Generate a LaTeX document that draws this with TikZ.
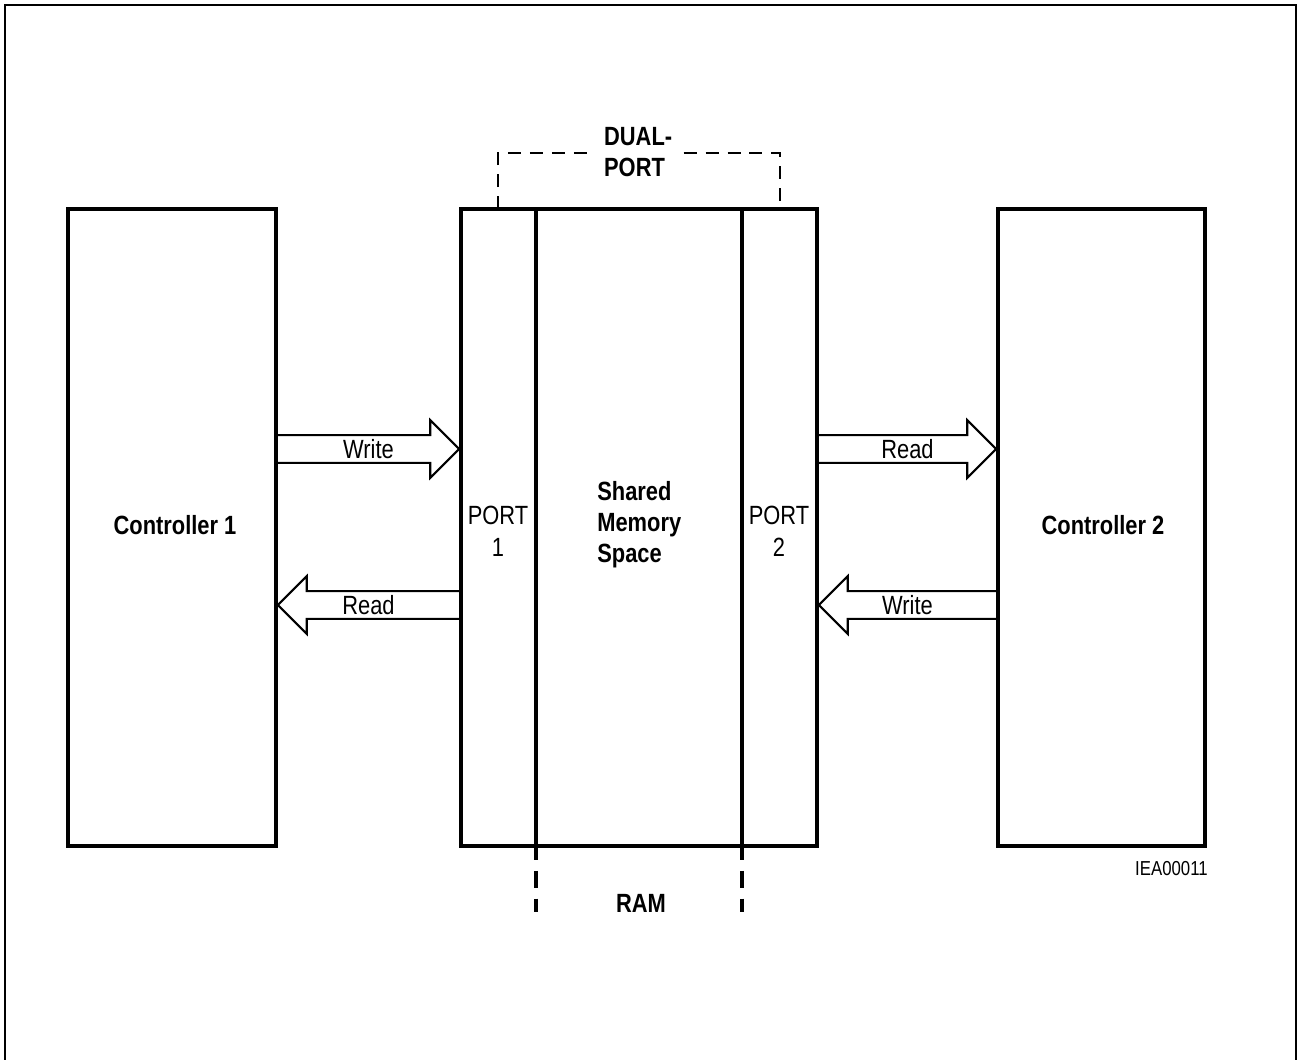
\documentclass[tikz,border=0pt]{standalone}
\usepackage{fontspec}
\setmainfont[FakeStretch=0.83]{Liberation Sans}
\usetikzlibrary{calc}
\tikzset{
  frame/.style={line width=1.1pt},
  blk/.style={draw, line width=2.2pt, inner sep=0pt},
  divider/.style={line width=2.2pt},
  dualdash/.style={line width=1.1pt, dash pattern=on 7.4pt off 5.1pt},
  ramdash/.style={line width=2.2pt, dash pattern=on 7.9pt off 6.2pt on 9.6pt off 6.2pt on 8pt off 20pt},
  barrow/.style={line width=1.2pt, line join=miter, to path={
    ($(\tikztostart)!7.9pt!90:(\tikztotarget)$)
    -- ($(\tikztotarget)!16.4pt!(\tikztostart)!7.9pt!-90:(\tikztostart)$)
    -- ($(\tikztotarget)!16.4pt!(\tikztostart)!16.4pt!-90:(\tikztostart)$)
    -- (\tikztotarget)
    -- ($(\tikztotarget)!16.4pt!(\tikztostart)!16.4pt!90:(\tikztostart)$)
    -- ($(\tikztotarget)!16.4pt!(\tikztostart)!7.9pt!90:(\tikztostart)$)
    -- ($(\tikztostart)!7.9pt!-90:(\tikztotarget)$)
  }},
  lbl/.style={inner sep=0pt, font=\fontsize{15}{18}\selectfont},
  boldlbl/.style={inner sep=0pt, font=\fontsize{15}{17.6}\selectfont\bfseries},
}
\begin{document}
\begin{tikzpicture}[x=0.02cm,y=-0.02cm]
\useasboundingbox (0,0) rectangle (1297,1059);
\draw[frame] (5,1062) -- (5,5) -- (1296,5) -- (1296,1062);

% dual-port dashed bracket
\draw[dualdash] (498,209) -- (498,153) -- (780,153) -- (780,209);
\node[boldlbl, align=left, anchor=west, fill=white, inner xsep=5pt, inner ysep=0pt] (dp) at (595,152) {DUAL-\\PORT};

% blocks
\node[blk, minimum width=4.16cm, minimum height=12.74cm] (c1) at (172,527.5) {};
\node[boldlbl] (c1t) at (175,525) {Controller 1};
\node[blk, minimum width=7.12cm, minimum height=12.74cm] (ram) at (639,527.5) {};
\node[blk, minimum width=4.14cm, minimum height=12.74cm] (c2) at (1101.5,527.5) {};
\node[boldlbl] (c2t) at (1103,525) {Controller 2};

% port dividers
\draw[divider] (536,209) -- (536,846);
\draw[divider] (742,209) -- (742,846);

% ram dashed extensions
\draw[ramdash] (536,846) -- (536,912);
\draw[ramdash] (742,846) -- (742,912);
\node[boldlbl] (ramt) at (641,903) {RAM};

% texts in RAM
\node[lbl, align=center] (p1) at (498,531) {PORT\\[0.3pt]1};
\node[lbl, align=center] (p2) at (779,531) {PORT\\[0.3pt]2};
\node[boldlbl, align=left, anchor=west] (sms) at (597,525) {Shared\\Memory\\Space};

% block arrows
\coordinate (a1s) at (c1.east |- 0,449);
\coordinate (a1e) at (ram.west |- 0,449);
\draw[barrow] (a1s) to (a1e);
\node[lbl] at ($(a1s)!0.5!(a1e)$) {Write};

\coordinate (a2s) at (ram.west |- 0,605);
\coordinate (a2e) at (c1.east |- 0,605);
\draw[barrow] (a2s) to (a2e);
\node[lbl] at ($(a2s)!0.5!(a2e)$) {Read};

\coordinate (a3s) at (ram.east |- 0,449);
\coordinate (a3e) at (c2.west |- 0,449);
\draw[barrow] (a3s) to (a3e);
\node[lbl] at ($(a3s)!0.5!(a3e)$) {Read};

\coordinate (a4s) at (c2.west |- 0,605);
\coordinate (a4e) at (ram.east |- 0,605);
\draw[barrow] (a4s) to (a4e);
\node[lbl] at ($(a4s)!0.5!(a4e)$) {Write};

\node[inner sep=0pt, font=\fontsize{11.5}{13}\selectfont, anchor=east] (id) at (1208,869) {IEA00011};
\end{tikzpicture}
\end{document}
